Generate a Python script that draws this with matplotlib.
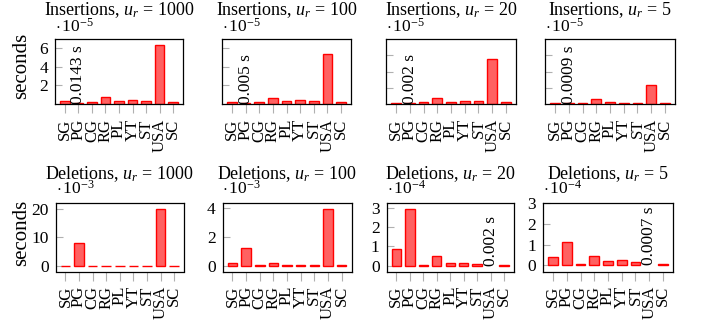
import matplotlib
matplotlib.use("Agg")
import matplotlib.pyplot as plt
import matplotlib.transforms as mtransforms
import numpy as np

plt.rcParams["font.family"] = ["Liberation Serif", "DejaVu Serif"]
plt.rcParams["mathtext.fontset"] = "custom"
plt.rcParams["mathtext.rm"] = "Liberation Serif"
plt.rcParams["mathtext.it"] = "Liberation Serif:italic"
plt.rcParams["font.size"] = 12

graphs = ["SG", "PG", "CG", "RG", "PL", "YT", "ST", "USA", "SC"]
ratios = [1000, 100, 20, 5]

# average time per update, seconds
ins_1000 = [0.28e-5, 0.10e-5, 0.18e-5, 0.75e-5, 0.28e-5, 0.40e-5, 0.32e-5, 6.35e-5, 0.22e-5]
ins_100 = [0.18e-5, 0.10e-5, 0.18e-5, 0.60e-5, 0.28e-5, 0.38e-5, 0.32e-5, 5.43e-5, 0.22e-5]
ins_20 = [0.16e-5, 0.10e-5, 0.20e-5, 0.73e-5, 0.28e-5, 0.40e-5, 0.33e-5, 5.50e-5, 0.20e-5]
ins_5 = [0.08e-5, 0.08e-5, 0.08e-5, 0.57e-5, 0.20e-5, 0.16e-5, 0.16e-5, 2.28e-5, 0.12e-5]

del_1000 = [0.1e-3, 7.9e-3, 0.1e-3, 0.1e-3, 0.1e-3, 0.1e-3, 0.1e-3, 20.0e-3, 0.1e-3]
del_100 = [0.19e-3, 1.23e-3, 0.03e-3, 0.19e-3, 0.03e-3, 0.03e-3, 0.03e-3, 3.93e-3, 0.03e-3]
del_20 = [0.86e-4, 2.96e-4, 0.05e-4, 0.49e-4, 0.16e-4, 0.12e-4, 0.07e-4, np.nan, 0.05e-4]
del_5 = [0.39e-4, 1.13e-4, 0.06e-4, 0.44e-4, 0.19e-4, 0.26e-4, 0.15e-4, np.nan, 0.06e-4]

# off-scale values written into the plot instead of a bar
ins_notes = [("PG", "0.0143 s"), ("PG", "0.005 s"), ("PG", "0.002 s"), ("PG", "0.0009 s")]
del_notes = [None, None, ("USA", "0.002 s"), ("USA", "0.0007 s")]

W, H = 709, 324
fig = plt.figure(figsize=(W / 100, H / 100), dpi=100)

# axes boxes in pixels: (left, right, top, bottom)
ins_boxes = [(55, 183, 39, 104), (222, 351, 39, 104), (386, 516, 39, 104), (545, 675, 39, 104)]
del_boxes = [(55.5, 184, 203, 271.5), (222.5, 351.5, 203, 271.5), (386.5, 514, 203, 271.5), (543, 673, 203, 271.5)]


def make_axes(box):
    l, r, t, b = box
    return fig.add_axes([l / W, 1 - b / H, (r - l) / W, (b - t) / H])


def draw(ax, values, exp, ylim, yticks, show_labels, note, title, exp_gap):
    x = np.arange(len(graphs))
    vals = np.array(values) / 10.0 ** exp
    ax.bar(x, vals, width=0.7, color="#ff6161", edgecolor="red", linewidth=1.0, zorder=2)
    ax.set_xlim(-0.73, 8.73)
    ax.set_ylim(*ylim)
    ax.set_xticks(x)
    ax.set_xticklabels(graphs, rotation=90, fontsize=12)
    ax.set_yticks(yticks)
    if not show_labels:
        ax.set_yticklabels([])
    ax.tick_params(axis="x", direction="out", length=6.5, width=0.8, color="#b0b0b0", pad=4)
    ax.tick_params(axis="y", direction="in", length=5, width=0.8, color="#b0b0b0", pad=5,
                   labelsize=12.5)
    for sp in ax.spines.values():
        sp.set_linewidth(0.9)
    if note is not None:
        ax.text(graphs.index(note[0]), 0, note[1], rotation=90, ha="center", va="bottom",
                fontsize=12.5, zorder=3)
    # exponent of the y axis, written above the top left corner
    off = mtransforms.offset_copy(ax.transAxes, fig=fig, x=0, y=exp_gap, units="dots")
    ax.text(0, 1, r"$\cdot\,10^{%d}$" % exp, transform=off, ha="left", va="baseline",
            fontsize=12.5)
    tt = mtransforms.offset_copy(ax.transAxes, fig=fig, x=0, y=24, units="dots")
    ax.text(0.5, 1, title, transform=tt, ha="center", va="baseline", fontsize=13)


ins_sets = [ins_1000, ins_100, ins_20, ins_5]
ins_ylims = [(0, 7), (0, 7), (0, 8), (0, 8)]
for i in range(4):
    ax = make_axes(ins_boxes[i])
    draw(ax, ins_sets[i], -5, ins_ylims[i], [2, 4, 6], i == 0, ins_notes[i],
         r"Insertions, $u_r$ = %d" % ratios[i], 7)

del_sets = [del_1000, del_100, del_20, del_5]
del_exps = [-3, -3, -4, -4]
del_ylims = [(-2.0, 22.0), (-0.4, 4.35), (-0.3, 3.26), (-0.3, 3.0)]
del_ticks = [[0, 10, 20], [0, 2, 4], [0, 1, 2, 3], [0, 1, 2, 3]]
for i in range(4):
    ax = make_axes(del_boxes[i])
    draw(ax, del_sets[i], del_exps[i], del_ylims[i], del_ticks[i], True, del_notes[i],
         r"Deletions, $u_r$ = %d" % ratios[i], 9)

fig.text(22 / W, 1 - 66 / H, "seconds", rotation=90, ha="center", va="center", fontsize=15)
fig.text(22 / W, 1 - 233 / H, "seconds", rotation=90, ha="center", va="center", fontsize=15)

fig.savefig("out.png", dpi=100)
